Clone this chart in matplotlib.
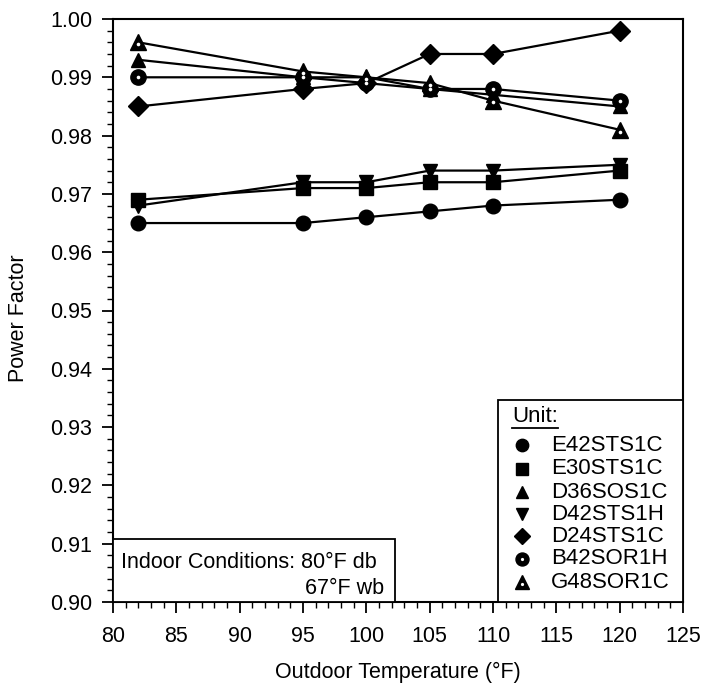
import matplotlib
matplotlib.use("Agg")
import matplotlib.pyplot as plt
from matplotlib.patches import Rectangle
from matplotlib.lines import Line2D
from matplotlib.ticker import MultipleLocator, FormatStrFormatter

plt.rcParams['font.family'] = ['Liberation Sans', 'DejaVu Sans']

temps = [82, 95, 100, 105, 110, 120]
units = ["E42STS1C", "E30STS1C", "D36SOS1C", "D42STS1H", "D24STS1C", "B42SOR1H", "G48SOR1C"]
e42sts1c = [0.965, 0.965, 0.966, 0.967, 0.968, 0.969]
e30sts1c = [0.969, 0.971, 0.971, 0.972, 0.972, 0.974]
d36sos1c = [0.993, 0.990, 0.990, 0.988, 0.987, 0.985]
d42sts1h = [0.968, 0.972, 0.972, 0.974, 0.974, 0.975]
d24sts1c = [0.985, 0.988, 0.989, 0.994, 0.994, 0.998]
b42sor1h = [0.990, 0.990, 0.989, 0.988, 0.988, 0.986]
g48sor1c = [0.996, 0.991, 0.990, 0.989, 0.986, 0.981]
series = [e42sts1c, e30sts1c, d36sos1c, d42sts1h, d24sts1c, b42sor1h, g48sor1c]

# (marker, size, has white centre dot)
styles = [
    ('o', 10.5, False),
    ('s', 10, False),
    ('^', 10.5, False),
    ('v', 10.5, False),
    ('D', 10, False),
    ('o', 11, True),
    ('^', 11.5, True),
]

fig = plt.figure(figsize=(7.04, 6.93), dpi=100)
ax = fig.add_axes([113/704, 1 - 602/693, (683 - 113)/704, (602 - 19)/693])

for vals, (mk, ms, hole) in zip(series, styles):
    ax.plot(temps, vals, color='black', lw=1.6, zorder=3, marker=mk, ms=ms,
            mfc='black', mec='black', mew=1)
    if hole:
        dy = -0.0003 if mk == '^' else 0.0
        ax.plot(temps, [v + dy for v in vals], lw=0, marker='o', ms=2.6,
                mfc='white', mec='white', mew=0, zorder=4)

ax.set_xlim(80, 125)
ax.set_ylim(0.90, 1.00)
ax.xaxis.set_major_locator(MultipleLocator(5))
ax.xaxis.set_minor_locator(MultipleLocator(1))
ax.yaxis.set_major_locator(MultipleLocator(0.01))
ax.yaxis.set_minor_locator(MultipleLocator(0.002))
ax.yaxis.set_major_formatter(FormatStrFormatter('%.2f'))
ax.tick_params(which='major', length=8, width=1.3, direction='out', labelsize=15.5, color='black')
ax.tick_params(which='minor', length=4, width=1.0, direction='out')
ax.tick_params(axis='x', which='major', pad=9)
ax.tick_params(axis='y', which='major', pad=7)
for sp in ax.spines.values():
    sp.set_linewidth(1.5)

ax.set_xlabel("Outdoor Temperature (\u00b0F)", fontsize=15.5)
ax.set_ylabel("Power Factor", fontsize=15.5)
ax.xaxis.set_label_coords(0.5, (602 - 672) / 583)
ax.xaxis.label.set_va('center')
ax.yaxis.set_label_coords((19 - 113) / 570, (602 - 318) / 583)
ax.yaxis.label.set_va('center')

def ax_x(px):
    return (px - 113) / 570

def ax_y(py):
    return (602 - py) / 583

# Indoor conditions box
ax.add_patch(Rectangle((0, 0), ax_x(395), ax_y(539), transform=ax.transAxes,
                       facecolor='white', edgecolor='black', lw=1.3, zorder=5))
ax.text(ax_x(121), ax_y(563), "Indoor Conditions: 80\u00b0F db", transform=ax.transAxes,
        fontsize=15.5, ha='left', va='center', zorder=6)
ax.text(ax_x(384), ax_y(589), "67\u00b0F wb", transform=ax.transAxes,
        fontsize=15.5, ha='right', va='center', zorder=6)

# Legend box
ax.add_patch(Rectangle((ax_x(498), 0), 1 - ax_x(498), ax_y(400), transform=ax.transAxes,
                       facecolor='white', edgecolor='black', lw=1.3, zorder=5))
ax.text(ax_x(512), ax_y(416), "Unit:", transform=ax.transAxes,
        fontsize=16, ha='left', va='center', zorder=6)
ax.add_line(Line2D([ax_x(512), ax_x(558)], [ax_y(428), ax_y(428)], transform=ax.transAxes,
                   color='black', lw=1.3, zorder=6))
row_y = [445, 469, 492, 514, 536, 559, 582]
for name, (mk, ms, hole), ry in zip(units, styles, row_y):
    ax.add_line(Line2D([ax_x(522)], [ax_y(ry)], transform=ax.transAxes, color='black',
                       lw=0, zorder=6, clip_on=False, marker=mk, ms=ms * 0.85,
                       mfc='black', mec='black', mew=1))
    if hole:
        off = 1.5 if mk == '^' else 0
        ax.add_line(Line2D([ax_x(522)], [ax_y(ry + off)], transform=ax.transAxes,
                           lw=0, zorder=7, marker='o', ms=2.3, mfc='white', mec='white', mew=0))
    ax.text(ax_x(551), ax_y(ry), name, transform=ax.transAxes,
            fontsize=16, ha='left', va='center', zorder=6)

fig.savefig("out.png", dpi=100)
